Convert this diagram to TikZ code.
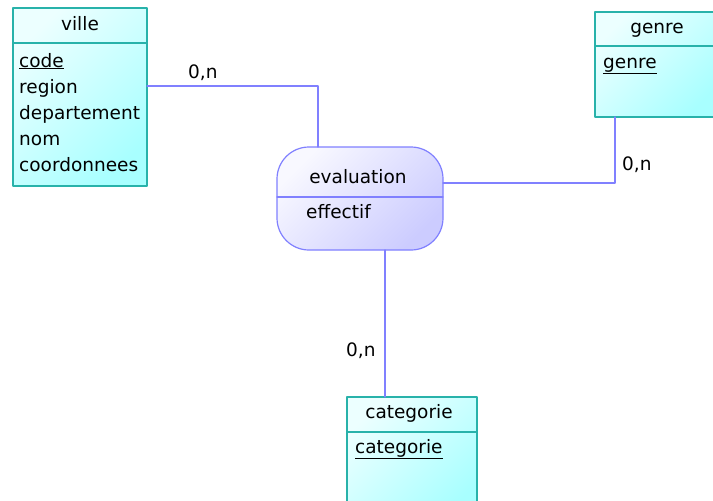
\documentclass[tikz,border=0pt]{standalone}
\usepackage{fontspec}
\setmainfont{DejaVu Sans}
\definecolor{entbord}{RGB}{40,178,170}
\definecolor{entclair}{RGB}{236,255,255}
\definecolor{entfonce}{RGB}{168,255,255}
\definecolor{relbord}{RGB}{128,128,255}
\definecolor{relclair}{RGB}{248,248,255}
\definecolor{relfonce}{RGB}{204,204,255}
\tikzset{
  entite/.style={draw=entbord,line width=1.6pt,top color=entclair,bottom color=entfonce,shading angle=45,inner sep=0pt,outer sep=0pt},
  relation/.style={draw=relbord,line width=1.2pt,rounded corners=32pt,top color=relclair,bottom color=relfonce,shading angle=45,inner sep=0pt,outer sep=0pt},
  lien/.style={draw=relbord,line width=1.1pt},
  txt/.style={inner sep=0pt,anchor=base west},
  titre/.style={inner sep=0pt,anchor=base}
}
\begin{document}
\begin{tikzpicture}[line cap=round,line join=round,x=1pt,y=-1pt,font=\fontsize{18.5}{22}\selectfont]
\clip (0,0) rectangle (713,501);
\node[entite,minimum width=134pt,minimum height=178pt] (ville) at (80,97) {};
\node[entite,minimum width=125pt,minimum height=105pt] (genre) at (657.5,64.5) {};
\node[entite,minimum width=130pt,minimum height=123pt] (categorie) at (412,458.5) {};
\node[relation,minimum width=166pt,minimum height=103pt] (evaluation) at (360,198.5) {};
\draw[entbord,line width=1.6pt] (ville.west |- 0,43) -- (ville.east |- 0,43);
\draw[entbord,line width=1.6pt] (genre.west |- 0,46) -- (genre.east |- 0,46);
\draw[entbord,line width=1.6pt] (categorie.west |- 0,432) -- (categorie.east |- 0,432);
\draw[relbord,line width=1.2pt] (evaluation.west |- 0,197) -- (evaluation.east |- 0,197);
\node[titre] (t1) at (80,30) {ville};
\node[txt] (a1) at (19,67) {\underline{code}};
\node[txt] (a2) at (19,93) {region};
\node[txt] (a3) at (19,119) {departement};
\node[txt] (a4) at (19,145) {nom};
\node[txt] (a5) at (19,171) {coordonnees};
\node[titre] (t2) at (657,33) {genre};
\node[txt] (b1) at (603,68) {\underline{genre}};
\node[titre] (t3) at (409,418) {categorie};
\node[txt] (d1) at (355,453) {\underline{categorie}};
\node[titre] (t4) at (358,183) {evaluation};
\node[txt] (e1) at (306,218) {effectif};
\draw[lien] ([yshift=11pt]ville.east) -| ([xshift=-42pt]evaluation.north);
\draw[lien] ([xshift=-42.5pt]genre.south) |- ([yshift=15.5pt]evaluation.east);
\draw[lien] ([xshift=25pt]evaluation.south) -- ([xshift=25pt]evaluation.south |- categorie.north);
\node[txt] (c1) at (188,78) {0,n};
\node[txt] (c2) at (622,170) {0,n};
\node[txt] (c3) at (346,356) {0,n};
\end{tikzpicture}
\end{document}
